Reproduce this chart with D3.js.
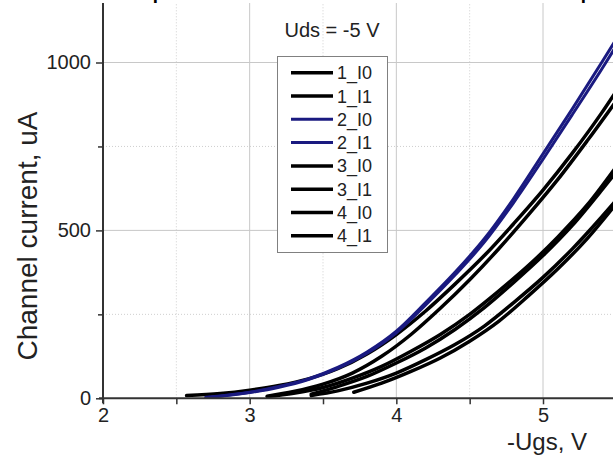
<!DOCTYPE html>
<html>
<head>
<meta charset="utf-8">
<script src="https://cdn.jsdelivr.net/npm/d3@7"></script>
<style>
  html, body { margin: 0; padding: 0; background: #fff; }
  svg { display: block; }
  text { font-family: "Liberation Sans", Arial, sans-serif; }
</style>
</head>
<body>
<svg id="chart" width="613" height="458"></svg>
<script>
// ---- data ----
const seriesNames = ["1_I0", "1_I1", "2_I0", "2_I1", "3_I0", "3_I1", "4_I0", "4_I1"];
const seriesColors = ["#000000", "#000000", "#1a1a80", "#1a1a80", "#000000", "#000000", "#000000", "#000000"];

const s1_I0 = [[2.57,8],[2.8,14],[3.0,24],[3.2,38],[3.4,58],[3.6,88],[3.8,132],[4.0,190],[4.2,260],[4.4,340],[4.6,425],[4.8,520],[5.0,620],[5.2,730],[5.4,850],[5.5,915]];
const s1_I1 = [[3.12,6],[3.3,20],[3.5,42],[3.7,75],[3.9,125],[4.1,190],[4.3,268],[4.5,353],[4.7,446],[4.9,546],[5.1,651],[5.3,766],[5.5,886]];
const s2_I0 = [[2.70,3],[2.8,7],[3.0,18],[3.2,35],[3.4,58],[3.6,92],[3.8,138],[4.0,200],[4.2,285],[4.4,375],[4.6,475],[4.8,595],[5.0,728],[5.2,862],[5.4,1000],[5.5,1070]];
const s2_I1 = [[2.72,3],[2.8,6],[3.0,17],[3.2,33],[3.4,56],[3.6,89],[3.8,134],[4.0,195],[4.2,278],[4.4,367],[4.6,465],[4.8,583],[5.0,712],[5.2,845],[5.4,980],[5.5,1050]];
const s3_I0 = [[3.12,5],[3.3,15],[3.5,32],[3.7,60],[3.9,95],[4.1,140],[4.3,190],[4.5,250],[4.7,320],[4.9,395],[5.1,480],[5.3,575],[5.5,690]];
const s3_I1 = [[3.42,12],[3.6,35],[3.8,65],[4.0,105],[4.2,150],[4.4,205],[4.6,270],[4.8,345],[5.0,425],[5.2,515],[5.4,620],[5.5,675]];
const s4_I0 = [[3.42,8],[3.6,22],[3.8,45],[4.0,75],[4.2,115],[4.4,160],[4.6,215],[4.8,285],[5.0,360],[5.2,445],[5.4,540],[5.5,590]];
const s4_I1 = [[3.71,18],[3.9,45],[4.1,80],[4.3,120],[4.5,170],[4.7,230],[4.9,305],[5.1,385],[5.3,475],[5.5,580]];
const seriesValues = [s1_I0, s1_I1, s2_I0, s2_I1, s3_I0, s3_I1, s4_I0, s4_I1];

const xTicks = [2, 3, 4, 5];
const xMinorTicks = [2.5, 3.5, 4.5];
const yTicks = [0, 500, 1000];
const yMinorTicks = [250, 750];
const xTitle = "-Ugs, V";
const yTitle = "Channel current, uA";
const annotation = "Uds = -5 V";

// ---- drawing ----
const svg = d3.select("#chart");
const W = 613, H = 458;
svg.append("rect").attr("width", W).attr("height", H).attr("fill", "#fff");

const x = d3.scaleLinear().domain([2, 5]).range([103, 543]);
const y = d3.scaleLinear().domain([0, 1000]).range([398.3, 62.5]);
const topPix = 3;

// grid
const grid = svg.append("g");
grid.selectAll(".gxm").data(xTicks.filter(d => d > 2)).enter().append("line")
  .attr("x1", d => x(d)).attr("x2", d => x(d)).attr("y1", y(0)).attr("y2", topPix)
  .attr("stroke", "#c8c8c8").attr("stroke-width", 1);
grid.selectAll(".gxn").data(xMinorTicks).enter().append("line")
  .attr("x1", d => x(d)).attr("x2", d => x(d)).attr("y1", y(0)).attr("y2", topPix)
  .attr("stroke", "#cfcfcf").attr("stroke-width", 1).attr("stroke-dasharray", "1,2");
grid.selectAll(".gym").data(yTicks.filter(d => d > 0)).enter().append("line")
  .attr("x1", x(2)).attr("x2", W).attr("y1", d => y(d)).attr("y2", d => y(d))
  .attr("stroke", "#c8c8c8").attr("stroke-width", 1);
grid.selectAll(".gyn").data(yMinorTicks).enter().append("line")
  .attr("x1", x(2)).attr("x2", W).attr("y1", d => y(d)).attr("y2", d => y(d))
  .attr("stroke", "#cfcfcf").attr("stroke-width", 1).attr("stroke-dasharray", "1,2");

// curves
const line = d3.line().x(d => x(d[0])).y(d => y(d[1])).curve(d3.curveMonotoneX);
const curves = svg.append("g");
seriesValues.forEach((vals, i) => {
  curves.append("path").datum(vals).attr("d", line)
    .attr("fill", "none").attr("stroke", seriesColors[i])
    .attr("stroke-width", seriesColors[i] === "#000000" ? 3.5 : 3.0)
    .attr("stroke-linecap", "round");
});

// axes
const xAxis = d3.axisBottom(x).tickValues(xTicks).tickSize(6).tickPadding(4).tickFormat(d3.format("d"));
const xAxisMinor = d3.axisBottom(x).tickValues(xMinorTicks).tickSize(6).tickFormat("");
const gx = svg.append("g").attr("transform", `translate(0,${y(0)})`).call(xAxis);
const gxm = svg.append("g").attr("transform", `translate(0,${y(0)})`).call(xAxisMinor);
[gx, gxm].forEach(g => {
  g.select(".domain").remove();
  g.selectAll(".tick line").attr("stroke", "#333").attr("stroke-width", 1.5);
});
gx.selectAll(".tick text").attr("font-size", 20).attr("fill", "#222");
svg.append("line").attr("x1", x(2) - 4).attr("x2", W).attr("y1", y(0)).attr("y2", y(0))
  .attr("stroke", "#333").attr("stroke-width", 2);

const yAxis = d3.axisLeft(y).tickValues(yTicks).tickSize(7).tickPadding(5).tickFormat(d3.format("d"));
const yAxisMinor = d3.axisLeft(y).tickValues(yMinorTicks).tickSize(5).tickFormat("");
const gy = svg.append("g").attr("transform", `translate(${x(2)},0)`).call(yAxis);
const gym = svg.append("g").attr("transform", `translate(${x(2)},0)`).call(yAxisMinor);
[gy, gym].forEach(g => {
  g.select(".domain").remove();
  g.selectAll(".tick line").attr("stroke", "#333").attr("stroke-width", 1.5);
});
gy.selectAll(".tick text").attr("font-size", 20).attr("fill", "#222");
svg.append("line").attr("x1", x(2)).attr("x2", x(2)).attr("y1", y(0) + 5).attr("y2", topPix)
  .attr("stroke", "#333").attr("stroke-width", 2);

// titles
svg.append("text").attr("x", 587).attr("y", 450).attr("text-anchor", "end")
  .attr("font-size", 24).attr("fill", "#222").text(xTitle);
svg.append("text").attr("transform", "translate(37,236) rotate(-90)").attr("text-anchor", "middle")
  .attr("font-size", 28).attr("fill", "#222").text(yTitle);

// annotation
svg.append("text").attr("x", 332).attr("y", 37).attr("text-anchor", "middle")
  .attr("font-size", 20).attr("fill", "#222").text(annotation);

// legend
const lg = svg.append("g");
lg.append("rect").attr("x", 277.5).attr("y", 56.5).attr("width", 110).attr("height", 196)
  .attr("fill", "#fff").attr("stroke", "#808080").attr("stroke-width", 1);
seriesNames.forEach((name, i) => {
  const cy = 72.7 + i * 23.3;
  lg.append("line").attr("x1", 291).attr("x2", 333).attr("y1", cy).attr("y2", cy)
    .attr("stroke", seriesColors[i]).attr("stroke-width", seriesColors[i] === "#000000" ? 3.5 : 3);
  lg.append("text").attr("x", 337).attr("y", cy + 6.5).attr("font-size", 18).attr("fill", "#222").text(name);
});

// fragments of a document text line that the reference crop cuts off at its top edge
svg.append("text").attr("x", 152).attr("y", -3.5).attr("font-family", "Liberation Serif")
  .attr("font-size", 30).attr("fill", "#000").text("p");
svg.append("text").attr("x", 570).attr("y", -3.5).attr("font-family", "Liberation Serif")
  .attr("font-size", 30).attr("fill", "#000").text("q");
</script>
</body>
</html>
